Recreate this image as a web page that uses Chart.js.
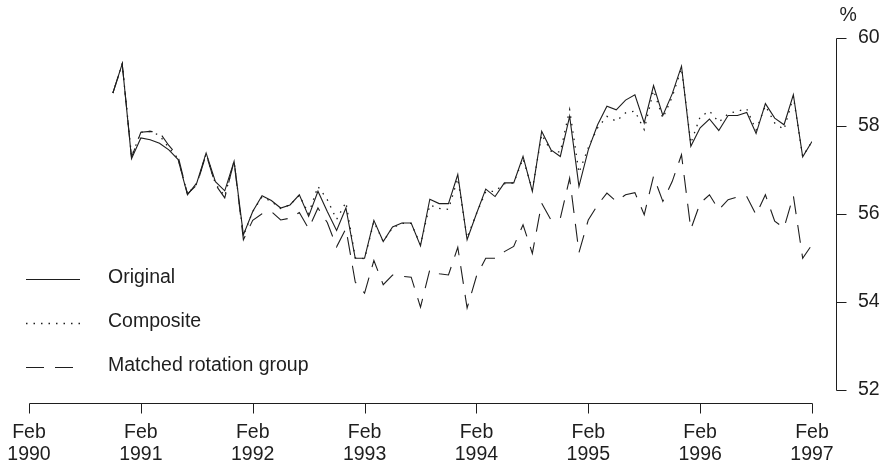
<!DOCTYPE html>
<html>
<head>
<meta charset="utf-8">
<script src="https://cdn.jsdelivr.net/npm/chart.js@4.4.1/dist/chart.umd.min.js"></script>
<style>
  html, body { margin: 0; padding: 0; background: #fff; }
  #wrap { width: 885px; height: 468px; }
</style>
</head>
<body>
<div id="wrap"><canvas id="myChart" width="885" height="468"></canvas></div>
<script>
// Monthly rates (%), Nov 1990 to Feb 1997

const firstYear = 1990;
const firstMonth = 11; // November

const original = [
  58.74, 59.40,
  57.25, 57.72, 57.68, 57.60, 57.45, 57.23, 56.43, 56.70, 57.38, 56.73, 56.52, 57.19,
  55.52, 56.05, 56.41, 56.30, 56.13, 56.20, 56.43, 55.94, 56.51, 56.05, 55.62, 56.13,
  54.99, 54.99, 55.85, 55.37, 55.70, 55.79, 55.79, 55.27, 56.33, 56.23, 56.23, 56.89,
  55.41, 56.00, 56.56, 56.39, 56.70, 56.70, 57.30, 56.51, 57.87, 57.45, 57.30, 58.21,
  56.62, 57.45, 58.02, 58.44, 58.36, 58.58, 58.70, 58.06, 58.91, 58.23, 58.72, 59.35,
  57.53, 57.95, 58.15, 57.89, 58.23, 58.23, 58.30, 57.82, 58.50, 58.17, 58.02, 58.70,
  57.29, 57.64
];

const composite = [
  58.74, 59.40,
  57.30, 57.85, 57.87, 57.78, 57.50, 57.25, 56.45, 56.68, 57.36, 56.68, 56.40, 57.19,
  55.50, 56.05, 56.38, 56.28, 56.12, 56.20, 56.42, 56.00, 56.62, 56.32, 55.87, 56.26,
  55.00, 54.98, 55.82, 55.37, 55.68, 55.78, 55.78, 55.30, 56.20, 56.12, 56.10, 56.80,
  55.45, 56.00, 56.50, 56.51, 56.68, 56.70, 57.25, 56.55, 57.80, 57.42, 57.40, 58.36,
  56.93, 57.50, 57.95, 58.21, 58.10, 58.29, 58.33, 57.91, 58.80, 58.17, 58.65, 59.30,
  57.60, 58.20, 58.33, 58.08, 58.27, 58.33, 58.38, 57.90, 58.45, 58.06, 57.91, 58.66,
  57.30, 57.64
];

const matched = [
  58.74, 59.40,
  57.28, 57.85, 57.87, 57.85, 57.55, 57.30, 56.45, 56.65, 57.35, 56.66, 56.36, 57.19,
  55.41, 55.85, 56.00, 56.05, 55.86, 55.90, 56.03, 55.66, 56.13, 55.80, 55.25, 55.66,
  54.45, 54.20, 54.94, 54.39, 54.61, 54.58, 54.56, 53.88, 54.73, 54.64, 54.61, 55.24,
  53.86, 54.58, 54.99, 54.99, 55.14, 55.26, 55.75, 55.10, 56.24, 55.86, 55.90, 56.81,
  55.12, 55.86, 56.20, 56.47, 56.28, 56.43, 56.48, 55.98, 56.85, 56.28, 56.73, 57.34,
  55.65, 56.24, 56.43, 56.09, 56.32, 56.38, 56.39, 55.98, 56.43, 55.83, 55.68, 56.41,
  54.99, 55.30
];

const seriesNames = ["Original", "Composite", "Matched rotation group"];
const tickYears = ["1990", "1991", "1992", "1993", "1994", "1995", "1996", "1997"];

// x position = months since Feb 1990
const monthsSinceFeb1990 = original.map((_, i) => (firstYear - 1990) * 12 + (firstMonth - 2) + i);

function toPoints(values) {
  return values.map((v, i) => ({ x: monthsSinceFeb1990[i], y: v }));
}

const ink = "#1e1e1e";
const fontFamily = "'Liberation Sans', Arial, Helvetica, sans-serif";

// R-style axes that sit off the plot region, plus legend and the % label
const extrasPlugin = {
  id: "extras",
  afterDraw(chart) {
    const { ctx, chartArea, scales } = chart;
    const x = scales.x;
    const y = scales.y;
    ctx.save();
    ctx.strokeStyle = ink;
    ctx.lineWidth = 1;
    ctx.setLineDash([]);

    // x axis
    const axY = Math.round(chartArea.bottom + 13) + 0.5;
    const x0 = Math.round(x.getPixelForValue(x.min)) + 0.5;
    const x1 = Math.round(x.getPixelForValue(x.max)) + 0.5;
    ctx.beginPath();
    ctx.moveTo(x0, axY);
    ctx.lineTo(x1, axY);
    x.ticks.forEach((t) => {
      const px = Math.round(x.getPixelForValue(t.value)) + 0.5;
      ctx.moveTo(px, axY);
      ctx.lineTo(px, axY + 10);
    });
    ctx.stroke();

    // y axis
    const axX = Math.round(chartArea.right + 24) + 0.5;
    const yTop = Math.round(y.getPixelForValue(y.max)) + 0.5;
    const yBot = Math.round(y.getPixelForValue(y.min)) + 0.5;
    ctx.beginPath();
    ctx.moveTo(axX, yTop);
    ctx.lineTo(axX, yBot);
    y.ticks.forEach((t) => {
      const py = Math.round(y.getPixelForValue(t.value)) + 0.5;
      ctx.moveTo(axX, py);
      ctx.lineTo(axX + 10, py);
    });
    ctx.stroke();

    ctx.fillStyle = ink;
    ctx.font = "19.5px " + fontFamily;
    ctx.textAlign = "left";
    ctx.textBaseline = "middle";
    ctx.fillText("%", axX + 3, 16);

    // legend
    chart.data.datasets.forEach((ds, i) => {
      const ly = 279 + i * 44;
      ctx.strokeStyle = ds.borderColor;
      ctx.lineWidth = ds.borderWidth;
      ctx.setLineDash(ds.borderDash || []);
      ctx.beginPath();
      ctx.moveTo(26, ly + 0.5);
      ctx.lineTo(80, ly + 0.5);
      ctx.stroke();
      ctx.fillText(ds.label, 108, ly - 1.5);
    });
    ctx.restore();
  }
};

const ctx = document.getElementById("myChart");

new Chart(ctx, {
  type: "line",
  data: {
    datasets: [
      {
        label: seriesNames[0],
        data: toPoints(original),
        borderColor: ink,
        borderWidth: 1.1,
        pointRadius: 0,
        tension: 0,
      },
      {
        label: seriesNames[1],
        data: toPoints(composite),
        borderColor: ink,
        borderWidth: 1.3,
        borderDash: [1.5, 6],
        pointRadius: 0,
        tension: 0,
      },
      {
        label: seriesNames[2],
        data: toPoints(matched),
        borderColor: ink,
        borderWidth: 1.1,
        borderDash: [18, 11],
        pointRadius: 0,
        tension: 0,
      },
    ],
  },
  options: {
    responsive: false,
    animation: false,
    devicePixelRatio: 1,
    layout: { padding: { top: 37.5, left: 29, right: 0, bottom: 0 } },
    plugins: {
      legend: { display: false },
      tooltip: { enabled: false },
    },
    scales: {
      x: {
        type: "linear",
        min: 0,
        max: 84,
        grid: { display: false, drawTicks: false },
        border: { display: false },
        afterFit: (scale) => {
          scale.height = 78;
          scale.paddingLeft = 0;
          scale.paddingRight = 0;
        },
        ticks: {
          stepSize: 12,
          autoSkip: false,
          maxRotation: 0,
          padding: 32,
          color: ink,
          font: { family: fontFamily, size: 19.5, lineHeight: 1.13 },
          callback: (v) => ["Feb", tickYears[v / 12]],
        },
      },
      y: {
        position: "right",
        min: 52,
        max: 60,
        grid: { display: false, drawTicks: false },
        border: { display: false },
        afterFit: (scale) => {
          scale.width = 73;
          scale.paddingTop = 0;
          scale.paddingBottom = 0;
        },
        ticks: {
          stepSize: 2,
          padding: 46,
          color: ink,
          font: { family: fontFamily, size: 19.5 },
        },
      },
    },
  },
  plugins: [extrasPlugin],
});
</script>
</body>
</html>
